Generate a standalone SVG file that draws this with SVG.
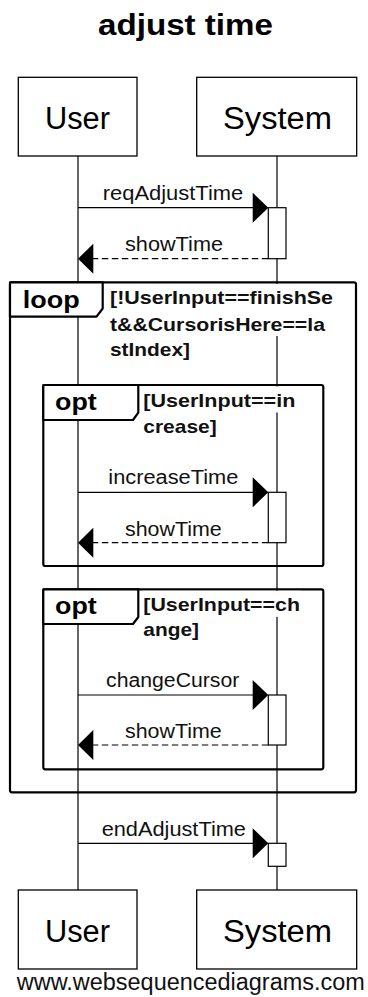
<svg xmlns="http://www.w3.org/2000/svg" width="368" height="997" viewBox="0 0 368 997">
<defs>
<style>
.box{fill:#fff;stroke:#000;stroke-width:1.3}
.life{stroke:#000;stroke-width:1.2;fill:none}
.actor{font-family:"Liberation Sans",Arial,sans-serif;font-size:31px;fill:#000;text-anchor:middle}
.msg{font-family:"Liberation Sans",Arial,sans-serif;font-size:20px;fill:#111;text-anchor:middle}
.line{stroke:#000;stroke-width:1.2;fill:none}
.dash{stroke:#000;stroke-width:1.2;fill:none;stroke-dasharray:6.5 3.5}
.head{fill:#000;stroke:none}
.act{fill:#fff;stroke:#000;stroke-width:1.2}
.frame{fill:none;stroke:#000;stroke-width:2.2}
.tab{fill:#fff;stroke:#000;stroke-width:2.2;stroke-linejoin:round}
.ftitle{font-family:"Liberation Sans",Arial,sans-serif;font-weight:bold;font-size:24px;fill:#000}
.cond{font-family:"Liberation Sans",Arial,sans-serif;font-weight:bold;font-size:19px;fill:#111}
.bg{fill:#fff;stroke:none}
</style>
</defs>
<rect width="368" height="997" fill="#fff"/>
<text x="185.5" y="35" text-anchor="middle" font-family="'Liberation Sans',Arial,sans-serif" font-weight="bold" font-size="30" textLength="175" lengthAdjust="spacingAndGlyphs">adjust time</text>

<g id="lifelines">
<line class="life" x1="78" y1="156" x2="78" y2="890"/>
<line class="life" x1="277" y1="156" x2="277" y2="890"/>
</g>

<g id="loop">
<rect class="frame" x="10" y="282.3" width="346" height="510" rx="2"/>
<path class="tab" d="M10,282.3 H102.7 V308.5 L96.5,316.7 H10 Z"/>
<text class="ftitle" x="22.7" y="308.3" textLength="57" lengthAdjust="spacingAndGlyphs">loop</text>
<rect class="bg" x="110" y="284" width="224" height="26"/>
<rect class="bg" x="110" y="310" width="216" height="26"/>
<rect class="bg" x="110" y="336" width="80" height="26"/>
<text class="cond" x="110" y="304" textLength="223" lengthAdjust="spacingAndGlyphs">[!UserInput==finishSe</text>
<text class="cond" x="110" y="330.5" textLength="215" lengthAdjust="spacingAndGlyphs">t&amp;&amp;CursorisHere==la</text>
<text class="cond" x="110" y="356" textLength="80" lengthAdjust="spacingAndGlyphs">stIndex]</text>
</g>

<g id="opt1">
<rect class="frame" x="43.3" y="385" width="280" height="181" rx="2"/>
<path class="tab" d="M43.3,385 H138.3 V412.7 L133,420 H43.3 Z"/>
<text class="ftitle" x="55" y="410" textLength="41.7" lengthAdjust="spacingAndGlyphs">opt</text>
<rect class="bg" x="143" y="386.5" width="153" height="26"/>
<text class="cond" x="143.3" y="407.3" textLength="152" lengthAdjust="spacingAndGlyphs">[UserInput==in</text>
<text class="cond" x="143.3" y="433.3" textLength="73.4" lengthAdjust="spacingAndGlyphs">crease]</text>
</g>

<g id="opt2">
<rect class="frame" x="43.3" y="589.3" width="280" height="180" rx="2"/>
<path class="tab" d="M43.3,589.3 H138.3 V617 L133,624 H43.3 Z"/>
<text class="ftitle" x="55" y="614" textLength="41.7" lengthAdjust="spacingAndGlyphs">opt</text>
<rect class="bg" x="143" y="590.8" width="158" height="26"/>
<text class="cond" x="143.3" y="610.7" textLength="156.7" lengthAdjust="spacingAndGlyphs">[UserInput==ch</text>
<text class="cond" x="143.3" y="635.5" textLength="55.7" lengthAdjust="spacingAndGlyphs">ange]</text>
</g>

<g id="connectors">
<line class="line" x1="78" y1="207.7" x2="254" y2="207.7"/>
<polygon class="head" points="252.7,192.7 268.3,207.7 252.7,222.7"/>
<text class="msg" x="173" y="200" textLength="140.6" lengthAdjust="spacingAndGlyphs">reqAdjustTime</text>
<rect class="act" x="268.3" y="207.7" width="17.7" height="51"/>
<line class="dash" x1="268.3" y1="258.7" x2="92" y2="258.7"/>
<polygon class="head" points="93.3,243.7 78,258.7 93.3,273.7"/>
<text class="msg" x="174" y="251" textLength="98" lengthAdjust="spacingAndGlyphs">showTime</text>

<line class="line" x1="78" y1="492.3" x2="254" y2="492.3"/>
<polygon class="head" points="252.7,477.3 268.3,492.3 252.7,507.3"/>
<text class="msg" x="173.3" y="484" textLength="130" lengthAdjust="spacingAndGlyphs">increaseTime</text>
<rect class="act" x="268.3" y="492.3" width="17.7" height="50.4"/>
<line class="dash" x1="268.3" y1="542.7" x2="92" y2="542.7"/>
<polygon class="head" points="93.3,527.7 78,542.7 93.3,557.7"/>
<text class="msg" x="173.3" y="535.7" textLength="96.7" lengthAdjust="spacingAndGlyphs">showTime</text>

<line class="line" x1="78" y1="695" x2="254" y2="695"/>
<polygon class="head" points="252.7,680 268.3,695 252.7,710"/>
<text class="msg" x="172.7" y="687.3" textLength="133.3" lengthAdjust="spacingAndGlyphs">changeCursor</text>
<rect class="act" x="268.3" y="695" width="17.7" height="50"/>
<line class="dash" x1="268.3" y1="745" x2="92" y2="745"/>
<polygon class="head" points="93.3,730 78,745 93.3,760"/>
<text class="msg" x="173.3" y="737.7" textLength="96.7" lengthAdjust="spacingAndGlyphs">showTime</text>

<line class="line" x1="78" y1="843.3" x2="254" y2="843.3"/>
<polygon class="head" points="252.7,828.3 268.3,843.3 252.7,858.3"/>
<text class="msg" x="173.8" y="836" textLength="144.3" lengthAdjust="spacingAndGlyphs">endAdjustTime</text>
<rect class="act" x="268.3" y="843.3" width="17.7" height="23"/>
</g>

<g id="User">
<rect class="box" x="18.3" y="77.3" width="118.7" height="78.7"/>
<text class="actor" x="77.5" y="129" textLength="65" lengthAdjust="spacingAndGlyphs">User</text>
<rect class="box" x="18.3" y="890" width="118.7" height="79"/>
<text class="actor" x="77.5" y="941.5" textLength="65" lengthAdjust="spacingAndGlyphs">User</text>
</g>

<g id="System">
<rect class="box" x="196.7" y="77.3" width="160" height="78.7"/>
<text class="actor" x="277.5" y="129" textLength="109" lengthAdjust="spacingAndGlyphs">System</text>
<rect class="box" x="196.7" y="890" width="160" height="79"/>
<text class="actor" x="277.5" y="941.5" textLength="109" lengthAdjust="spacingAndGlyphs">System</text>
</g>

<text x="190.8" y="990" text-anchor="middle" font-family="'Liberation Sans',Arial,sans-serif" font-size="23" fill="#111" textLength="348" lengthAdjust="spacingAndGlyphs">www.websequencediagrams.com</text>
</svg>
